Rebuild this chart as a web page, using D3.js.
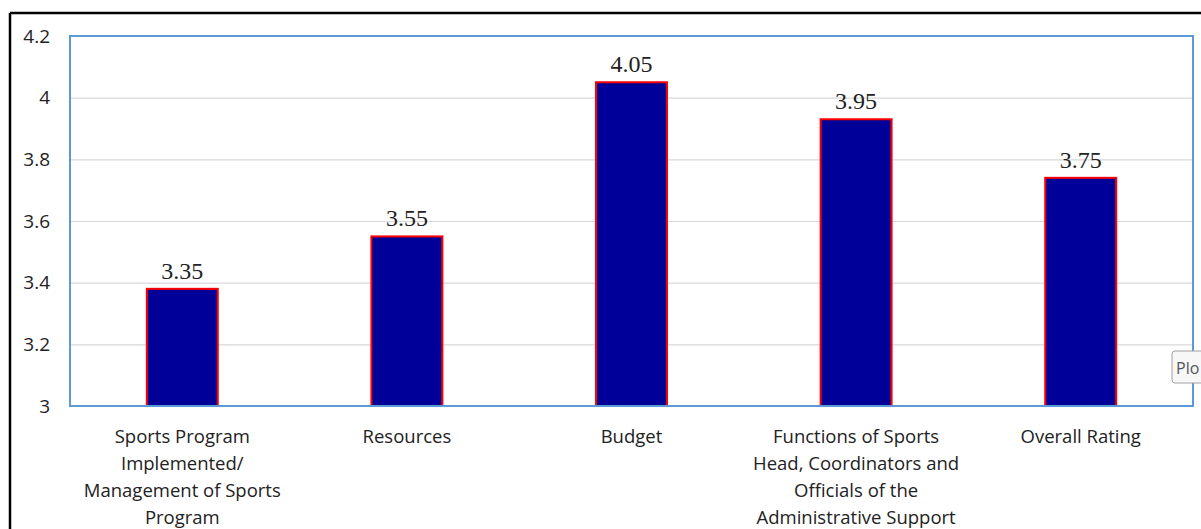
<!DOCTYPE html>
<html>
<head>
<meta charset="utf-8">
<script src="https://cdn.jsdelivr.net/npm/d3@7"></script>
<style>
  html, body { margin: 0; padding: 0; background: #fff; }
  svg { display: block; }
</style>
</head>
<body>
<svg id="chart" width="1201" height="529"></svg>
<script>
const categories = [
  ["Sports Program", "Implemented/", "Management of Sports", "Program"],
  ["Resources"],
  ["Budget"],
  ["Functions of Sports", "Head, Coordinators and", "Officials of the", "Administrative Support"],
  ["Overall Rating"]
];
const barValues = [3.38, 3.55, 4.05, 3.93, 3.74];
const barLabels = ["3.35", "3.55", "4.05", "3.95", "3.75"];
const yTicks = [3, 3.2, 3.4, 3.6, 3.8, 4, 4.2];

const svg = d3.select("#chart");
const W = 1201, H = 529;
const m = { left: 70, top: 36, right: 1193, bottom: 406 };

// outer frame (black), left and top edges visible
svg.append("line").attr("x1", 10).attr("x2", 10).attr("y1", 13).attr("y2", H)
  .attr("stroke", "#000").attr("stroke-width", 2.5);
svg.append("line").attr("x1", 10).attr("x2", W).attr("y1", 13).attr("y2", 13)
  .attr("stroke", "#000").attr("stroke-width", 2.5);

const x = d3.scaleBand().domain(d3.range(categories.length))
  .range([m.left, m.right]).paddingInner(0.684).paddingOuter(0.342);
const y = d3.scaleLinear().domain([3, 4.2]).range([m.bottom, m.top]);

// gridlines
svg.append("g")
  .attr("transform", `translate(${m.left},0)`)
  .call(d3.axisLeft(y).tickValues(yTicks).tickSize(-(m.right - m.left)).tickFormat(""))
  .call(g => g.select(".domain").remove())
  .call(g => g.selectAll("line").attr("stroke", "#d9d9d9").attr("stroke-width", 1.2));

// y tick labels
svg.append("g")
  .attr("transform", `translate(${m.left},0)`)
  .call(d3.axisLeft(y).tickValues(yTicks).tickSize(0).tickPadding(20).tickFormat(d => d3.format("")(+d.toFixed(1))))
  .call(g => g.select(".domain").remove())
  .call(g => g.selectAll("text").attr("font-family", "'Open Sans', sans-serif")
    .attr("font-size", 19).attr("fill", "#222"));

// bars
svg.append("g").selectAll("rect").data(barValues).join("rect")
  .attr("x", (d, i) => x(i))
  .attr("width", x.bandwidth())
  .attr("y", d => y(d))
  .attr("height", d => y(3) - y(d))
  .attr("fill", "#000099")
  .attr("stroke", "#ff0000")
  .attr("stroke-width", 2);

// plot border
svg.append("rect")
  .attr("x", m.left).attr("y", m.top)
  .attr("width", m.right - m.left).attr("height", m.bottom - m.top)
  .attr("fill", "none").attr("stroke", "#5b9bd5").attr("stroke-width", 2);

// data labels
svg.append("g").selectAll("text").data(barValues).join("text")
  .attr("x", (d, i) => x(i) + x.bandwidth() / 2)
  .attr("y", d => y(d) - 10)
  .attr("text-anchor", "middle")
  .attr("font-family", "'Liberation Serif', 'Times New Roman', serif")
  .attr("font-size", 24)
  .attr("fill", "#222")
  .text((d, i) => barLabels[i]);

// category labels
const cat = svg.append("g").selectAll("text").data(categories).join("text")
  .attr("x", (d, i) => x(i) + x.bandwidth() / 2)
  .attr("y", 443)
  .attr("text-anchor", "middle")
  .attr("font-family", "'Open Sans', sans-serif")
  .attr("font-size", 18.5)
  .attr("fill", "#222");
cat.selectAll("tspan").data(d => d).join("tspan")
  .attr("x", function () { return d3.select(this.parentNode).attr("x"); })
  .attr("dy", (d, j) => j === 0 ? 0 : 27)
  .text(d => d);

// tooltip artifact
const tip = svg.append("g");
tip.append("rect").attr("x", 1172).attr("y", 351).attr("width", 80).attr("height", 32)
  .attr("rx", 3).attr("fill", "#f7f7f7").attr("stroke", "#a0a0a0");
tip.append("text").attr("x", 1176).attr("y", 374)
  .attr("font-family", "'Open Sans', sans-serif").attr("font-size", 16).attr("fill", "#555")
  .text("Plo");
</script>
</body>
</html>
